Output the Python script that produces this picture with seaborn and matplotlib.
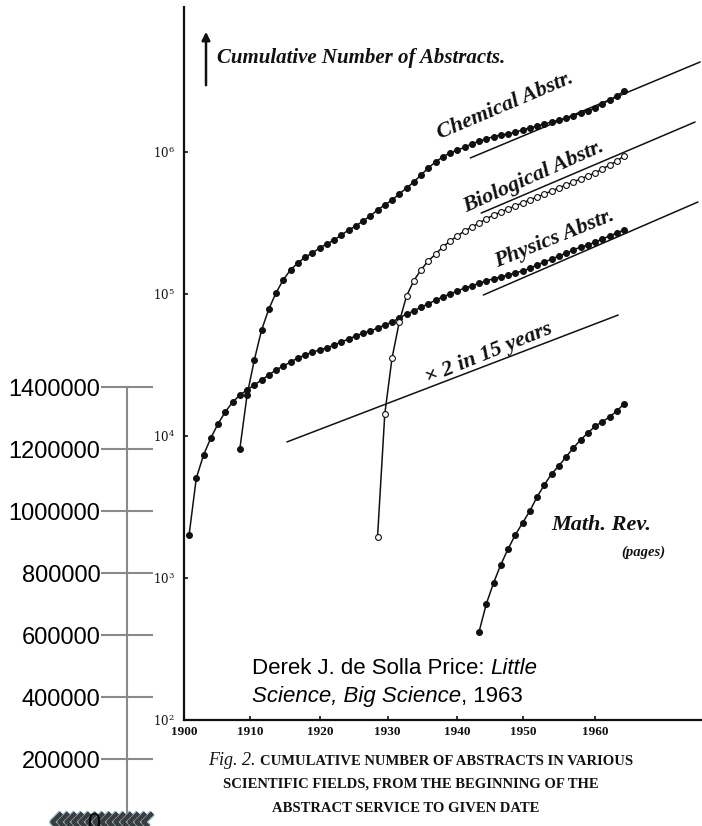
import numpy as np
import pandas as pd
import matplotlib
matplotlib.use("Agg")
import matplotlib.pyplot as plt
import matplotlib.patheffects as pe
from matplotlib.path import Path
from matplotlib.ticker import NullLocator
import seaborn as sns

# ---------------- data ----------------
physics_years = list(range(1900, 1961))
physics_values = [2010, 5060, 7350, 9680, 12200, 14800, 17300, 19400, 21100, 22900,
                  24800, 26900, 29200, 31100, 33200, 35400, 37200, 39000, 40300, 41700,
                  43800, 45900, 48200, 50600, 53100, 54800, 57600, 60500, 63500, 67800,
                  72300, 75900, 81000, 85000, 90700, 95300, 100000, 105000, 110000, 114000,
                  119000, 124000, 128000, 132000, 136000, 141000, 145000, 152000, 160000, 168000,
                  176000, 185000, 194000, 204000, 214000, 221000, 232000, 244000, 256000, 269000,
                  282000]

chemical_years = list(range(1907, 1961))
chemical_values = [8090, 19400, 34300, 55700, 78300, 102000, 126000, 148000, 165000, 182000,
                   194000, 211000, 225000, 240000, 260000, 282000, 301000, 327000, 354000, 391000,
                   424000, 459000, 506000, 558000, 615000, 689000, 772000, 851000, 923000, 985000,
                   1030000, 1080000, 1140000, 1190000, 1240000, 1280000, 1320000, 1340000, 1380000, 1430000,
                   1480000, 1520000, 1570000, 1630000, 1680000, 1730000, 1790000, 1880000, 1950000, 2040000,
                   2180000, 2320000, 2480000, 2690000]

biological_years = list(range(1926, 1961))
biological_values = [1950, 14300, 35400, 63500, 96800, 124000, 148000, 171000, 191000, 214000,
                     236000, 256000, 278000, 296000, 316000, 338000, 360000, 378000, 397000, 417000,
                     438000, 459000, 482000, 506000, 531000, 558000, 586000, 615000, 646000, 678000,
                     712000, 759000, 809000, 864000, 938000]

math_years = list(range(1940, 1961))
math_values = [417, 656, 922, 1240, 1600, 2010, 2440, 2960, 3720, 4520,
               5400, 6150, 7120, 8230, 9370, 10500, 11700, 12600, 13600, 15000, 16800]

# straight "x2 in 15 years" guide lines (end points)
chem_guide_years = [1938.8, 1970.5]
chem_guide_values = [908000, 4305000]
bio_guide_years = [1940.3, 1969.8]
bio_guide_values = [371500, 1626000]
phys_guide_years = [1940.6, 1970.2]
phys_guide_values = [98400, 444600]
double_guide_years = [1913.5, 1959.2]
double_guide_values = [9080, 71100]

year_tick_pos = [1899.3, 1908.4, 1918.1, 1927.4, 1937.0, 1946.1, 1956.0]
year_tick_labels = ["1900", "1910", "1920", "1930", "1940", "1950", "1960"]
log_ticks = [1e2, 1e3, 1e4, 1e5, 1e6]
log_tick_labels = [r"$10^{2}$", r"$10^{3}$", r"$10^{4}$", r"$10^{5}$", r"$10^{6}$"]
left_ticks = [0, 200000, 400000, 600000, 800000, 1000000, 1200000, 1400000]

# ---------------- style ----------------
sns.set_style("white")
plt.rcParams["font.family"] = ["DejaVu Sans"]
plt.rcParams["mathtext.fontset"] = "dejavuserif"

W, H = 702, 826
fig = plt.figure(figsize=(W / 100, H / 100), dpi=100)
fig.patch.set_facecolor("white")

deco = fig.add_axes([0, 0, 1, 1], zorder=0)
deco.set_xlim(0, W)
deco.set_ylim(H, 0)
deco.axis("off")

ax = fig.add_axes([184 / W, (H - 720) / H, (W - 184) / W, (720 - 7) / H], zorder=1)
ax.patch.set_alpha(0)
ax.set_yscale("log")

ink = "#111111"
line_kw = dict(color=ink, lw=1.1, estimator=None, errorbar=None, ax=ax)

series = [
    (physics_years, physics_values, ink),
    (chemical_years, chemical_values, ink),
    (biological_years, biological_values, "white"),
    (math_years, math_values, ink),
]
for yrs, vals, face in series:
    df = pd.DataFrame({"year": yrs, "value": vals})
    sns.lineplot(data=df, x="year", y="value", marker="o", markersize=4.2,
                 markerfacecolor=face, markeredgecolor=ink, markeredgewidth=0.8,
                 **line_kw)

for gy, gv in [(chem_guide_years, chem_guide_values), (bio_guide_years, bio_guide_values),
               (phys_guide_years, phys_guide_values), (double_guide_years, double_guide_values)]:
    sns.lineplot(x=gy, y=gv, **line_kw)

ax.set_xlim(1899.31, 1970.76)
ax.set_ylim(100, 1.0498e7)
ax.set_xlabel("")
ax.set_ylabel("")
for s in ["top", "right"]:
    ax.spines[s].set_visible(False)
for s in ["left", "bottom"]:
    ax.spines[s].set_color(ink)
    ax.spines[s].set_linewidth(1.6)
ax.set_yticks(log_ticks)
ax.set_yticklabels(log_tick_labels)
ax.yaxis.set_minor_locator(NullLocator())
ax.set_xticks(year_tick_pos)
ax.set_xticklabels(year_tick_labels, fontfamily="Liberation Serif", fontweight="bold", fontsize=9.5)
ax.tick_params(axis="both", direction="in", length=3, width=1.2, color=ink, labelcolor=ink,
               left=True, bottom=True)
ax.tick_params(axis="y", pad=6.5, labelsize=8.5)
ax.tick_params(axis="x", pad=4)

# ---------------- overlay linear axis on the left ----------------
ov = fig.add_axes([127 / W, (H - 821) / H, 0.0005, (821 - 387) / H], zorder=2)
ov.patch.set_alpha(0)
ov.set_ylim(0, 1400000)
ov.set_xticks([])
ov.set_yticks(left_ticks)
ov.set_yticklabels([str(t) for t in left_ticks], fontfamily="Liberation Sans", fontsize=17)
for s in ["top", "right", "bottom"]:
    ov.spines[s].set_visible(False)
grey = "#8a8a8a"
ov.spines["left"].set_color(grey)
ov.spines["left"].set_linewidth(1.5)
ov.spines["left"].set_bounds(25000, 1400000)
ov.tick_params(axis="y", left=True, direction="inout", length=37.4, width=1.5, color=grey,
               pad=0.5, labelcolor="black")
zero_tick = ov.yaxis.get_major_ticks()[0]
zero_tick.tick1line.set_visible(False)
zero_tick.tick2line.set_visible(False)

# chevron strip at the bottom left
chev = Path([(0.5, 1.0), (-0.5, 0.0), (0.5, -1.0)], [Path.MOVETO, Path.LINETO, Path.LINETO])
chev_x = np.arange(57, 153, 7)
deco.plot(chev_x, np.full(len(chev_x), 822), linestyle="none", marker=chev, markersize=13,
          markeredgewidth=3.2, markeredgecolor="#3d3d3d", markerfacecolor="none",
          path_effects=[pe.Stroke(linewidth=5, foreground="#8fc4d8"), pe.Normal()])

# ---------------- hand-lettered annotations ----------------
hand = dict(fontfamily="Liberation Serif", fontstyle="italic", color=ink, fontweight="bold")
deco.text(217, 58, "Cumulative Number of Abstracts.", ha="left", va="center", fontsize=15, **hand)
deco.annotate("", xy=(206, 29), xytext=(206, 88),
              arrowprops=dict(arrowstyle="-|>", color=ink, lw=1.8, mutation_scale=12))
deco.text(505, 106, "Chemical Abstr.", rotation=23, ha="center", va="center", fontsize=16, **hand)
deco.text(534, 177, "Biological Abstr.", rotation=24, ha="center", va="center", fontsize=16, **hand)
deco.text(554, 239, "Physics Abstr.", rotation=22, ha="center", va="center", fontsize=16, **hand)
deco.text(489, 353, "\u00d7 2 in 15 years", rotation=22, ha="center", va="center", fontsize=16, **hand)
deco.text(601, 525, "Math. Rev.", ha="center", va="center", fontsize=16, **hand)
deco.text(643, 552, "(pages)", ha="center", va="center", fontsize=10.5, **hand)

# citation
fig.canvas.draw()
renderer = fig.canvas.get_renderer()

def inline(parts, x, y, fam, size):
    cur = x
    for txt, style in parts:
        t = deco.text(cur, y, txt, ha="left", va="baseline", fontfamily=fam,
                      fontstyle=style, fontsize=size, color="black")
        bb = t.get_window_extent(renderer)
        cur = bb.x1

inline([("Derek J. de Solla Price: ", "normal"), ("Little", "italic")], 252, 674, "Liberation Sans", 16)
inline([("Science, Big Science", "italic"), (", 1963", "normal")], 252, 702, "Liberation Sans", 16)

# caption
cap = dict(fontfamily="Liberation Serif", color=ink, fontweight="bold")
t1 = deco.text(208, 765, "Fig. 2.", ha="left", va="baseline", fontsize=13, fontstyle="italic",
               fontfamily="Liberation Serif", color=ink)
x1 = t1.get_window_extent(renderer).x1
deco.text(x1 + 5, 765, "CUMULATIVE NUMBER OF ABSTRACTS IN VARIOUS", ha="left", va="baseline",
          fontsize=10.5, **cap)
deco.text(411, 788, "SCIENTIFIC FIELDS, FROM THE BEGINNING OF THE", ha="center", va="baseline",
          fontsize=10.5, **cap)
deco.text(406, 812, "ABSTRACT SERVICE TO GIVEN DATE", ha="center", va="baseline",
          fontsize=10.5, **cap)

fig.savefig("out.png", dpi=100, facecolor="white")
